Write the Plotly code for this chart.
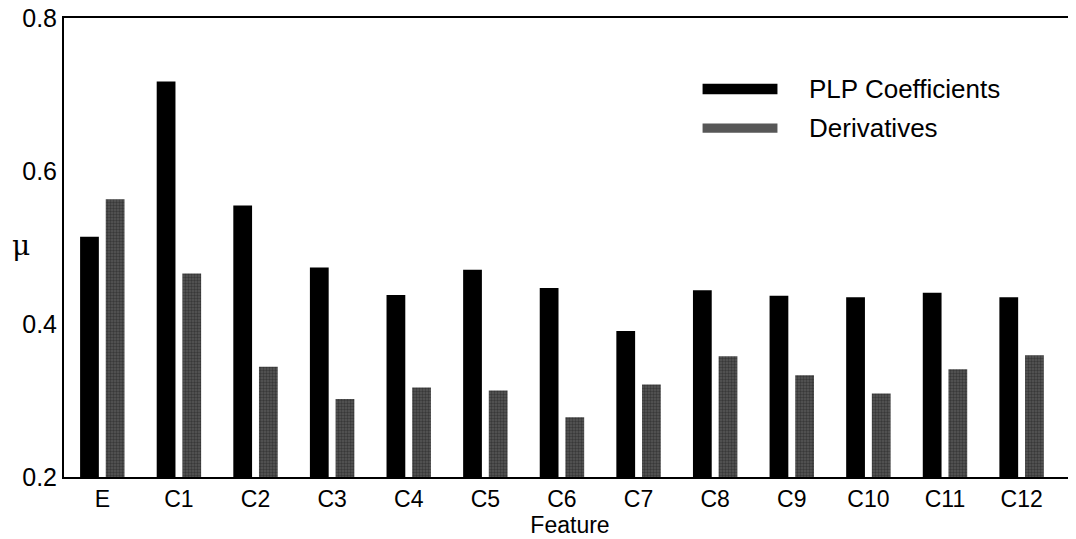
import plotly.graph_objects as go

features = ["E", "C1", "C2", "C3", "C4", "C5", "C6", "C7", "C8", "C9", "C10", "C11", "C12"]
plp_coefficients = [0.514, 0.717, 0.555, 0.474, 0.438, 0.471, 0.447, 0.391, 0.444, 0.437, 0.435, 0.441, 0.435]
derivatives = [0.563, 0.466, 0.344, 0.302, 0.317, 0.313, 0.278, 0.321, 0.358, 0.333, 0.309, 0.341, 0.359]
y_ticks = [0.2, 0.4, 0.6, 0.8]
series_names = ["PLP Coefficients", "Derivatives"]

FONT = "Liberation Sans, Arial, Helvetica, sans-serif"
GRAY_BG = "#575757"
GRAY_FG = "#1a1a1a"

x_idx = list(range(len(features)))

fig = go.Figure()
fig.add_trace(go.Bar(
    x=x_idx, y=[v - 0.2 for v in plp_coefficients], base=0.2,
    width=0.245, offset=-0.29,
    marker=dict(color="black", line=dict(width=0)),
    name=series_names[0], showlegend=False,
))
fig.add_trace(go.Bar(
    x=x_idx, y=[v - 0.2 for v in derivatives], base=0.2,
    width=0.245, offset=0.045,
    marker=dict(color=GRAY_BG, line=dict(width=0),
                pattern=dict(shape=".", fillmode="overlay", bgcolor=GRAY_BG,
                             fgcolor=GRAY_FG, size=3, solidity=0.5)),
    name=series_names[1], showlegend=False,
))

# legend drawn as long swatches like the original
shapes = [
    dict(type="rect", xref="paper", yref="paper", x0=0.631, x1=0.705, y0=0.834, y1=0.857,
         fillcolor="black", line=dict(width=0)),
    dict(type="rect", xref="paper", yref="paper", x0=0.631, x1=0.705, y0=0.750, y1=0.770,
         fillcolor=GRAY_BG, line=dict(width=0)),
]
annotations = [
    dict(text=series_names[0], xref="paper", yref="paper", x=0.734, y=0.845,
         xanchor="left", yanchor="middle", showarrow=False,
         font=dict(family=FONT, size=26, color="black")),
    dict(text=series_names[1], xref="paper", yref="paper", x=0.734, y=0.760,
         xanchor="left", yanchor="middle", showarrow=False,
         font=dict(family=FONT, size=26, color="black")),
    dict(text="μ", xref="paper", yref="paper", x=-0.042, y=0.505,
         xanchor="center", yanchor="middle", showarrow=False,
         font=dict(family="DejaVu Serif, serif", size=28, color="black")),
]

# the page body adds an 8px margin, so the figure is sized to fill the rest of the window
fig.update_layout(
    width=1068, height=531,
    margin=dict(l=56, r=0, t=10, b=62, autoexpand=False),
    paper_bgcolor="white", plot_bgcolor="white",
    font=dict(family=FONT, size=23, color="black"),
    showlegend=False,
    shapes=shapes,
    annotations=annotations,
    xaxis=dict(
        range=[-0.5, 12.71],
        tickmode="array", tickvals=x_idx, ticktext=features,
        showline=True, linecolor="black", linewidth=2, mirror=True,
        ticks="", showgrid=False, zeroline=False, automargin=False,
        tickfont=dict(family=FONT, size=23),
        title=dict(text="Feature", standoff=0, font=dict(family=FONT, size=23)),
    ),
    yaxis=dict(
        range=[0.2, 0.8],
        tickmode="array", tickvals=y_ticks, ticktext=["0.2", "0.4", "0.6", "0.8"],
        showline=True, linecolor="black", linewidth=2,
        ticks="", showgrid=False, zeroline=False, automargin=False,
        ticklabeloverflow="allow",
        tickfont=dict(family=FONT, size=25),
    ),
)

fig.write_html("out.html")
